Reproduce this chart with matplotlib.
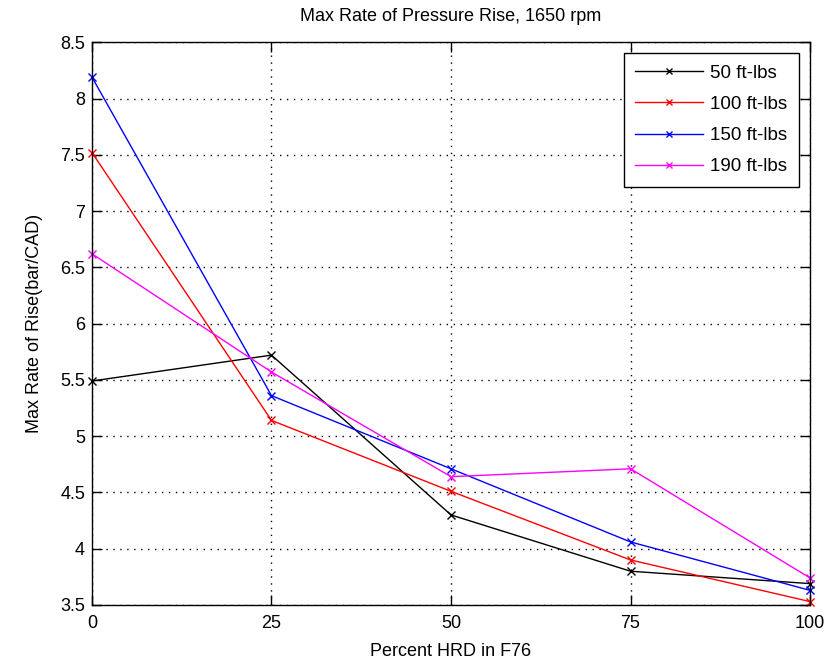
import matplotlib
matplotlib.use('Agg')
import matplotlib.pyplot as plt
from matplotlib.ticker import FuncFormatter

plt.rcParams['font.family'] = ['Liberation Sans', 'DejaVu Sans']

# datos
hrd = [0, 25, 50, 75, 100]
torque_50 = [5.49, 5.72, 4.30, 3.80, 3.69]
torque_100 = [7.52, 5.14, 4.51, 3.90, 3.53]
torque_150 = [8.19, 5.36, 4.71, 4.06, 3.63]
torque_190 = [6.62, 5.57, 4.64, 4.71, 3.74]
labels = ['50 ft-lbs', '100 ft-lbs', '150 ft-lbs', '190 ft-lbs']
colors = ['#000000', '#ff0000', '#0000ff', '#ff00ff']

x_ticks = [0, 25, 50, 75, 100]
y_ticks = [3.5, 4, 4.5, 5, 5.5, 6, 6.5, 7, 7.5, 8, 8.5]

fig = plt.figure(figsize=(8.36, 6.66), dpi=100)
ax = fig.add_axes([0.110, 0.0916, 0.859, 0.845])

series = [torque_50, torque_100, torque_150, torque_190]
for vals, lab, c in zip(series, labels, colors):
    ax.plot(hrd, vals, color=c, marker='x', markersize=6, markeredgewidth=1,
            linewidth=1, label=lab, clip_on=False)

ax.set_xlim(0, 100)
ax.set_ylim(3.5, 8.5)
ax.set_xticks(x_ticks)
ax.set_yticks(y_ticks)
ax.yaxis.set_major_formatter(FuncFormatter(lambda v, p: ('%g' % v)))
ax.tick_params(direction='in', length=7, width=1, top=True, right=True,
               labelsize=13)
ax.tick_params(axis='x', pad=7)
ax.tick_params(axis='y', pad=5)
ax.grid(True, linestyle=(0, (1, 4)), color='black', linewidth=1)
for s in ax.spines.values():
    s.set_linewidth(1)

ax.set_title('Max Rate of Pressure Rise, 1650 rpm', fontsize=13, pad=15)
ax.set_xlabel('Percent HRD in F76', fontsize=13, labelpad=8)
ax.set_ylabel('Max Rate of Rise(bar/CAD)', fontsize=13, labelpad=12)

leg = ax.legend(loc='upper right', fontsize=13.5, fancybox=False, framealpha=1,
                edgecolor='black', borderaxespad=0.6, handlelength=3.6,
                handletextpad=0.4, labelspacing=0.75, borderpad=0.6,
                markerscale=0.8)
leg.get_frame().set_linewidth(1)

fig.savefig('out.png', dpi=100)
